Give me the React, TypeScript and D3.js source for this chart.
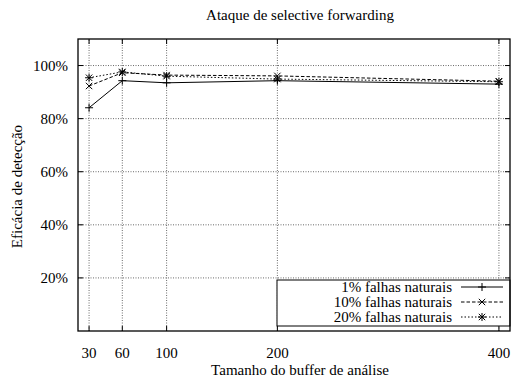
import * as d3 from "d3";

const bufferSizes = [30, 60, 100, 200, 400];
const xTicks = [30, 60, 100, 200, 400];
const yTicks = [20, 40, 60, 80, 100];

const falhas1 = [84.1, 94.3, 93.5, 94.3, 93.0];
const falhas10 = [92.3, 97.3, 96.4, 96.1, 94.1];
const falhas20 = [95.4, 97.6, 96.0, 94.9, 93.9];

const seriesNames = ["1% falhas naturais", "10% falhas naturais", "20% falhas naturais"];

const W = 518;
const H = 381;
const margin = { left: 78, right: 8, top: 39, bottom: 50 };
const FONT = "'Liberation Serif', 'Times New Roman', serif";
const FS = 15;

type Series = { name: string; values: number[]; dash: string; marker: "plus" | "cross" | "star" };

const series: Series[] = [
  { name: seriesNames[0], values: falhas1, dash: "none", marker: "plus" },
  { name: seriesNames[1], values: falhas10, dash: "3.5,2", marker: "cross" },
  { name: seriesNames[2], values: falhas20, dash: "1.5,2", marker: "star" },
];

function Marker({ kind, x, y }: { kind: Series["marker"]; x: number; y: number }) {
  const s = 4;
  const c = s * 0.8;
  const plus = `M${x - s},${y}H${x + s}M${x},${y - s}V${y + s}`;
  const cross = `M${x - c},${y - c}L${x + c},${y + c}M${x - c},${y + c}L${x + c},${y - c}`;
  const d = kind === "plus" ? plus : kind === "cross" ? cross : plus + cross;
  return <path d={d} stroke="#000" strokeWidth={1} fill="none" />;
}

export default function App() {
  const x = d3.scaleLinear().domain([20, 410]).range([margin.left, W - margin.right]);
  const y = d3.scaleLinear().domain([0, 110]).range([H - margin.bottom, margin.top]);
  const x0 = margin.left;
  const x1 = W - margin.right;
  const y0 = H - margin.bottom;
  const y1 = margin.top;

  const line = d3
    .line<number>()
    .x((_, i) => x(bufferSizes[i]))
    .y((d) => y(d));

  // legend box
  const lg = { left: 277, top: 280, right: x1, bottom: 326 };
  const rowY = [287, 302, 317];
  const sampleX0 = 461;
  const sampleX1 = 503;

  return (
    <svg width={W} height={H} style={{ position: "absolute", left: 0, top: 0 }} fontFamily={FONT}>
      <rect width={W} height={H} fill="#fff" />
      <text x={300} y={20} textAnchor="middle" fontSize={FS}>
        Ataque de selective forwarding
      </text>

      {/* grid */}
      {xTicks.map((t) => (
        <line key={"gx" + t} x1={x(t)} x2={x(t)} y1={y0} y2={y1} stroke="#444" strokeWidth={0.8} strokeDasharray="1,1.5" />
      ))}
      {yTicks.map((t) => (
        <line key={"gy" + t} x1={x0} x2={x1} y1={y(t)} y2={y(t)} stroke="#444" strokeWidth={0.8} strokeDasharray="1,1.5" />
      ))}

      {/* ticks inward, mirrored */}
      {xTicks.map((t) => (
        <g key={"tx" + t}>
          <line x1={x(t)} x2={x(t)} y1={y0} y2={y0 - 5} stroke="#000" />
          <line x1={x(t)} x2={x(t)} y1={y1} y2={y1 + 5} stroke="#000" />
          <text x={x(t)} y={358} textAnchor="middle" fontSize={FS}>
            {t}
          </text>
        </g>
      ))}
      {yTicks.map((t) => (
        <g key={"ty" + t}>
          <line x1={x0} x2={x0 + 5} y1={y(t)} y2={y(t)} stroke="#000" />
          <line x1={x1} x2={x1 - 5} y1={y(t)} y2={y(t)} stroke="#000" />
          <text x={68} y={y(t) + 5} textAnchor="end" fontSize={FS}>
            {t}%
          </text>
        </g>
      ))}

      {/* series */}
      {series.map((s) => (
        <g key={s.name}>
          <path d={line(s.values) ?? ""} fill="none" stroke="#000" strokeWidth={1} strokeDasharray={s.dash} />
          {s.values.map((v, i) => (
            <Marker key={i} kind={s.marker} x={x(bufferSizes[i])} y={y(v)} />
          ))}
        </g>
      ))}

      {/* legend */}
      <rect x={lg.left} y={lg.top} width={lg.right - lg.left} height={lg.bottom - lg.top} fill="#fff" stroke="#000" strokeWidth={1} />
      {series.map((s, i) => (
        <g key={"lg" + s.name}>
          <text x={452} y={rowY[i] + 5} textAnchor="end" fontSize={FS}>
            {s.name}
          </text>
          <line x1={sampleX0} x2={sampleX1} y1={rowY[i]} y2={rowY[i]} stroke="#000" strokeDasharray={s.dash} />
          <Marker kind={s.marker} x={(sampleX0 + sampleX1) / 2} y={rowY[i]} />
        </g>
      ))}

      {/* frame */}
      <rect x={x0} y={y1} width={x1 - x0} height={y0 - y1} fill="none" stroke="#000" strokeWidth={1.3} />

      <text x={300} y={375} textAnchor="middle" fontSize={FS}>
        Tamanho do buffer de análise
      </text>
      <text transform={`translate(22,186.5) rotate(-90)`} textAnchor="middle" fontSize={FS}>
        Eficácia de detecção
      </text>
    </svg>
  );
}
